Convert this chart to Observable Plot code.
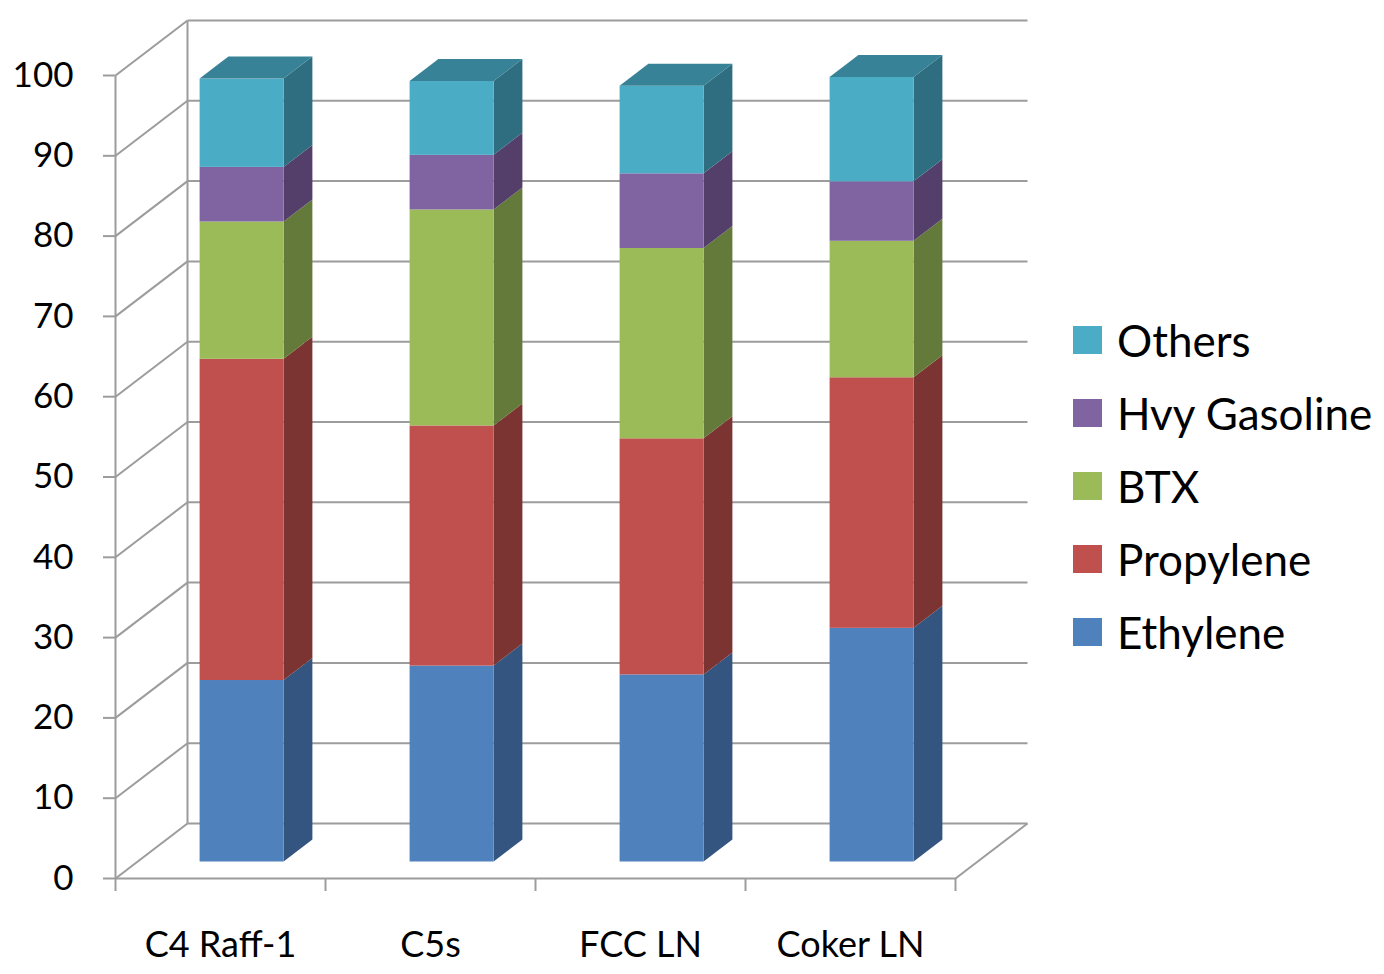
<!DOCTYPE html>
<html>
<head>
<meta charset="utf-8">
<script src="https://cdn.jsdelivr.net/npm/d3@7"></script>
<script src="https://cdn.jsdelivr.net/npm/@observablehq/plot@0.6"></script>
<style>
  html, body { margin: 0; padding: 0; background: #ffffff; }
  #wrap { position: relative; width: 1384px; height: 974px; font-family: Lato, "Noto Sans", sans-serif; }
  #legend { position: absolute; left: 1073px; top: 303px; }
  .row { display: flex; align-items: center; height: 73px; }
  .sw { width: 29px; height: 28px; margin-right: 15px; }
  .lab { font-size: 44px; color: #000; white-space: nowrap; }
</style>
</head>
<body>
<div id="wrap"><div id="chart"></div><div id="legend"></div></div>
<script>
// ---- data ----
const categories = ["C4 Raff-1", "C5s", "FCC LN", "Coker LN"];
const seriesNames = ["Ethylene", "Propylene", "BTX", "Hvy Gasoline", "Others"];
const ethylene    = [22.6, 24.4, 23.3, 29.1];
const propylene   = [40.0, 29.9, 29.4, 31.2];
const btx         = [17.1, 26.9, 23.7, 17.0];
const hvyGasoline = [6.8, 6.8, 9.3, 7.4];
const others      = [11.0, 9.2, 10.9, 13.0];
const yTicks = [0, 10, 20, 30, 40, 50, 60, 70, 80, 90, 100];

// ---- styles ----
const frontColors = ["#4F81BD", "#C0504D", "#9BBB59", "#8064A2", "#4BACC6"];
const sideColors  = ["#33557F", "#7B3432", "#647A3A", "#533F6A", "#2F6E80"];
const topColor = "#378296";
const gridColor = "#9c9c9c";

// depth of the 3D box in data units (x: category units, y: value units)
const DX = 72 / 210;
const DY = 55 / 8.03;
const Z0 = 0.3, Z1 = 0.7; // bar depth placement (fraction of full depth)

const valuesBySeries = [ethylene, propylene, btx, hvyGasoline, others];

const segs = [];
categories.forEach((c, i) => {
  let acc = 0;
  valuesBySeries.forEach((vals, s) => {
    const lo = acc, hi = acc + vals[i];
    acc = hi;
    segs.push({i, s, lo, hi, key: i + "-" + s});
  });
});

const xl = d => d.i + 0.3 + Z0 * DX;
const xr = d => d.i + 0.7 + Z0 * DX;

const sidePts = segs.flatMap(d => [
  {key: d.key, s: d.s, x: xr(d), y1: d.lo + Z0 * DY, y2: d.hi + Z0 * DY},
  {key: d.key, s: d.s, x: xr(d) + (Z1 - Z0) * DX, y1: d.lo + Z1 * DY, y2: d.hi + Z1 * DY}
]);

const tops = segs.filter(d => d.s === seriesNames.length - 1);
const topPts = tops.flatMap(d => [
  {key: d.key, y: d.hi + Z0 * DY, x1: xl(d), x2: xr(d)},
  {key: d.key, y: d.hi + Z1 * DY, x1: xl(d) + (Z1 - Z0) * DX, x2: xr(d) + (Z1 - Z0) * DX}
]);

const n = categories.length;

const chart = Plot.plot({
  width: 1384,
  height: 974,
  marginLeft: 115,
  marginRight: 1384 - 955,
  marginTop: 75,
  marginBottom: 974 - 878,
  style: {fontFamily: "Lato, 'Noto Sans', sans-serif", background: "#ffffff", overflow: "visible"},
  x: {domain: [0, n]},
  y: {domain: [0, 100]},
  color: {type: "identity"},
  marks: [
    // left wall diagonals
    Plot.link(yTicks, {x1: () => 0, y1: d => d, x2: () => DX, y2: d => d + DY, stroke: gridColor, strokeWidth: 2}),
    // back wall gridlines (incl. floor back edge)
    Plot.link(yTicks, {x1: () => DX, x2: () => n + DX, y1: d => d + DY, y2: d => d + DY, stroke: gridColor, strokeWidth: 2}),
    // back wall left vertical edge
    Plot.link([0], {x1: () => DX, x2: () => DX, y1: () => DY, y2: () => 100 + DY, stroke: gridColor, strokeWidth: 2}),
    // front vertical axis line
    Plot.link([0], {x1: () => 0, x2: () => 0, y1: () => 0, y2: () => 100, stroke: gridColor, strokeWidth: 2}),
    // front floor line
    Plot.link([0], {x1: () => 0, x2: () => n, y1: () => 0, y2: () => 0, stroke: gridColor, strokeWidth: 2}),
    // right floor diagonal
    Plot.link([0], {x1: () => n, x2: () => n + DX, y1: () => 0, y2: () => DY, stroke: gridColor, strokeWidth: 2}),
    // bars: side faces
    Plot.area(sidePts, {x1: "x", y1: "y1", y2: "y2", z: "key", fill: d => sideColors[d.s]}),
    // bars: front faces
    Plot.rect(segs, {x1: xl, x2: xr, y1: d => d.lo + Z0 * DY, y2: d => d.hi + Z0 * DY, fill: d => frontColors[d.s]}),
    // bars: top faces
    Plot.area(topPts, {y1: "y", x1: "x1", x2: "x2", z: "key", fill: () => topColor}),
    // y axis
    Plot.axisY(yTicks, {tickSize: 12, tickPadding: 30, fontSize: 35, stroke: gridColor, strokeWidth: 2, fill: "#000", tickFormat: d => String(d)}),
    // x category boundary ticks
    Plot.axisX(d3.range(n + 1), {tickSize: 13, stroke: gridColor, strokeWidth: 2, tickFormat: () => ""}),
    // x category labels
    Plot.text(categories, {x: (d, i) => i + 0.5, y: () => 0, dy: 67, fontSize: 36, fill: "#000", text: d => d})
  ]
});
document.getElementById("chart").appendChild(chart);

// legend (reverse order, like the reference)
const legend = document.getElementById("legend");
for (let s = seriesNames.length - 1; s >= 0; s--) {
  const row = document.createElement("div");
  row.className = "row";
  const sw = document.createElement("div");
  sw.className = "sw";
  sw.style.background = frontColors[s];
  const lab = document.createElement("div");
  lab.className = "lab";
  lab.textContent = seriesNames[s];
  row.appendChild(sw);
  row.appendChild(lab);
  legend.appendChild(row);
}
</script>
</body>
</html>
